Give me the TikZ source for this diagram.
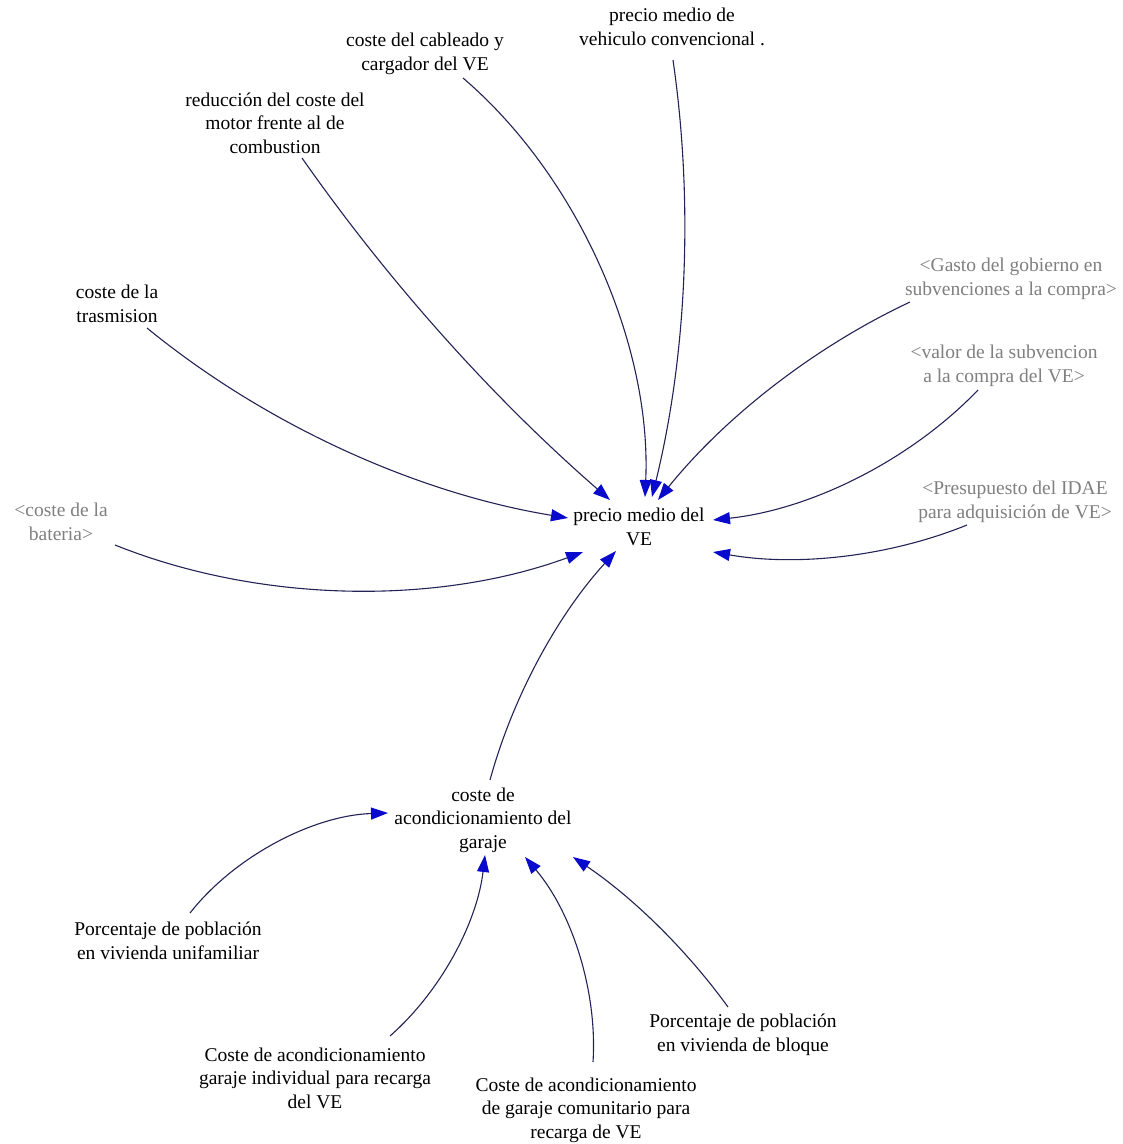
\documentclass[tikz,border=0pt]{standalone}
\usepackage{fontspec}
\setmainfont{Liberation Serif}
\usetikzlibrary{arrows.meta}
\definecolor{linkc}{RGB}{35,35,85}
\definecolor{headc}{RGB}{10,10,205}
\definecolor{shadowc}{RGB}{128,128,128}
\begin{document}
\begin{tikzpicture}[x=1pt,y=1pt,
  var/.style={align=center,font=\fontsize{19.5}{23.5}\selectfont,inner sep=0pt},
  shadowvar/.style={var,text=shadowc},
  link/.style={draw=linkc,line width=1.1pt,looseness=0.85,
    -{Triangle[length=17pt,width=12pt,color=headc]}}]
\useasboundingbox (0,0) rectangle (1123,-1144);
\fill[white] (0,0) rectangle (1123,-1144);

% variables
\node[var] (conv) at (672,-27) {precio medio de\\vehiculo convencional .};
\node[var] (cab) at (425,-54) {coste del cableado y\\cargador del VE};
\node[var] (red) at (275,-123) {reducción del coste del\\motor frente al de\\combustion};
\node[var] (tras) at (117,-304) {coste de la\\trasmision};
\node[shadowvar] (bat) at (61,-522) {<coste de la\\bateria>};
\node[var] (ve) at (639,-527) {precio medio del\\VE};
\node[shadowvar] (gasto) at (1011,-279) {<Gasto del gobierno en\\subvenciones a la compra>};
\node[shadowvar] (valor) at (1004,-366) {<valor de la subvencion\\a la compra del VE>};
\node[shadowvar] (pres) at (1015,-502) {<Presupuesto del IDAE\\para adquisición de VE>};
\node[var] (gar) at (483,-820) {coste de\\acondicionamiento del\\garaje};
\node[var] (unif) at (168,-941) {Porcentaje de población\\en vivienda unifamiliar};
\node[var] (ind) at (315,-1078) {Coste de acondicionamiento\\garaje individual para recarga\\del VE};
\node[var] (com) at (586,-1110) {Coste de acondicionamiento\\de garaje comunitario para\\recarga de VE};
\node[var] (blo) at (743,-1035) {Porcentaje de población\\en vivienda de bloque};

% links into precio medio del VE
\draw[link] ([shift={(30,-24)}]tras.center) to[bend right=15] ([shift={(-71,9)}]ve.center);
\draw[link] ([shift={(27,-35)}]red.center) to[bend right=7] ([shift={(-29,27)}]ve.center);
\draw[link] ([shift={(38,-24)}]cab.center) to[bend left=26] ([shift={(6,30)}]ve.center);
\draw[link] ([shift={(1,-33)}]conv.center) to[bend left=11] ([shift={(13,30)}]ve.center);
\draw[link] ([shift={(-101,-23)}]gasto.center) to[bend right=13] ([shift={(19,27)}]ve.center);
\draw[link] ([shift={(-26,-24)}]valor.center) to[bend left=20] ([shift={(74,7)}]ve.center);
\draw[link] ([shift={(-48,-23)}]pres.center) to[bend left=16] ([shift={(74,-25)}]ve.center);
\draw[link] ([shift={(54,-23)}]bat.center) to[bend right=21] ([shift={(-56,-25)}]ve.center);
\draw[link] ([shift={(7,40)}]gar.center) to[bend left=13.5] ([shift={(-23,-24)}]ve.center);

% links into coste de acondicionamiento del garaje
\draw[link] ([shift={(22,28)}]unif.center) to[bend left=25] ([shift={(-95,7)}]gar.center);
\draw[link] ([shift={(75,42)}]ind.center) to[bend right=21] ([shift={(2,-35)}]gar.center);
\draw[link] ([shift={(7,48)}]com.center) to[bend right=22] ([shift={(42,-37)}]gar.center);
\draw[link] ([shift={(-15,28)}]blo.center) to[bend right=10] ([shift={(90,-37)}]gar.center);
\end{tikzpicture}
\end{document}
